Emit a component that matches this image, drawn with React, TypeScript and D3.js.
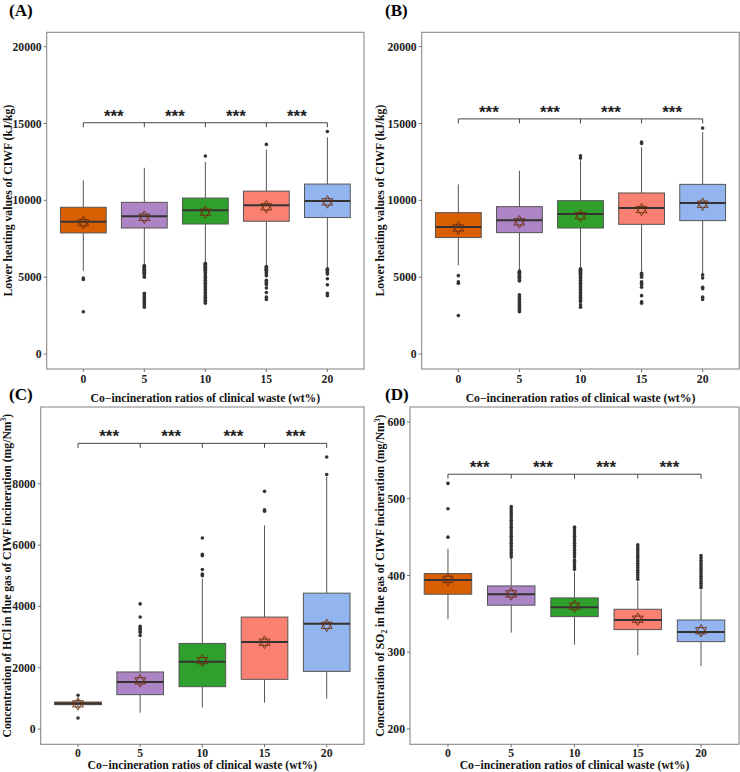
import React from "react";
import * as d3 from "d3";

const categories = ["0", "5", "10", "15", "20"];
const boxColors = ["#DA5F02", "#AD85C6", "#2FA02C", "#FA8072", "#93B5EF"];

// Panel A
const aQ1 = [7880, 8200, 8460, 8640, 8880];
const aMed = [8600, 8960, 9350, 9680, 9960];
const aQ3 = [9550, 9870, 10150, 10600, 11060];
const aLow = [5410, 5780, 5990, 5780, 5670];
const aHigh = [11300, 12120, 12500, 13300, 14100];
const aMean = [8550, 8900, 9230, 9580, 9900];
const aOut = [
  [4950, 4850, 2750],
  [5750, 5700, 5650, 5600, 5550, 5500, 5450, 5400, 5350, 5300, 5250, 5200, 5100, 5000, 3950, 3850, 3750, 3650, 3550, 3450, 3350, 3250, 3150, 3050],
  [12880, 5900, 5850, 5800, 5750, 5700, 5650, 5600, 5550, 5500, 5450, 5400, 5300, 5200, 5100, 5000, 4900, 4800, 4700, 4600, 4500, 4400, 4300, 4200, 4100, 4000, 3900, 3800, 3700, 3600, 3500, 3400, 3300],
  [13640, 5700, 5650, 5600, 5550, 5500, 5450, 5400, 5300, 5200, 5100, 4800, 4700, 4600, 4500, 4300, 4000, 3700, 3550],
  [14480, 5550, 5500, 5450, 5400, 5300, 5200, 4900, 4500, 3950, 3800],
];

// Panel B
const bQ1 = [7580, 7900, 8200, 8440, 8680];
const bMed = [8270, 8700, 9110, 9500, 9830];
const bQ3 = [9200, 9590, 9980, 10480, 11040];
const bLow = [5780, 5410, 5630, 5350, 5240];
const bHigh = [11040, 11930, 12600, 13450, 14440];
const bMean = [8200, 8600, 9000, 9400, 9750];
const bOut = [
  [5100, 4700, 4600, 2500],
  [5400, 5350, 5300, 5250, 5200, 5150, 5100, 5050, 5000, 4950, 4900, 4800, 4750, 3850, 3750, 3650, 3550, 3450, 3350, 3250, 3150, 3050, 2950, 2850, 2750],
  [12900, 12750, 5550, 5500, 5450, 5400, 5350, 5300, 5250, 5200, 5150, 5100, 5000, 4900, 4800, 4700, 4600, 4500, 4400, 4300, 4200, 4100, 4000, 3900, 3800, 3700, 3600, 3500, 3400, 3200, 3050],
  [13800, 13700, 5250, 5200, 5150, 5100, 5000, 4700, 4600, 4500, 4350, 3800, 3400, 3300],
  [14700, 5150, 4950, 4350, 4250, 3700, 3550],
];

// Panel C
const cQ1 = [793, 1120, 1380, 1620, 1880];
const cMed = [830, 1530, 2195, 2840, 3430];
const cQ3 = [880, 1860, 2790, 3650, 4430];
const cLow = [700, 530, 700, 860, 990];
const cHigh = [980, 2945, 4900, 6640, 8230];
const cMean = [820, 1570, 2230, 2830, 3380];
const cOut = [
  [1100, 360],
  [4080, 3650, 3350, 3300, 3250, 3200, 3150, 3050],
  [6230, 5700, 5650, 5200, 5050, 5000],
  [7750, 7150, 7100],
  [8870, 8300],
];

// Panel D
const dQ1 = [375.6, 361.3, 346.4, 329.5, 313.8];
const dMed = [394, 375.6, 358.7, 342, 326.5];
const dQ3 = [402.5, 386.4, 370.8, 356, 342];
const dLow = [343, 325.6, 310, 296, 282];
const dHigh = [435, 422, 405, 392, 381];
const dMean = [395, 376, 360, 343, 328];
const dOut = [
  [520, 487, 450],
  [490, 487, 484, 481, 478, 475, 472, 469, 466, 463, 460, 457, 454, 451, 448, 445, 442, 439, 436, 433, 430, 427, 424],
  [463, 460, 457, 454, 451, 448, 445, 442, 439, 436, 433, 430, 427, 424, 420, 417, 414, 411, 408],
  [440, 437, 434, 431, 428, 425, 422, 419, 416, 413, 410, 407, 404, 401, 398, 395],
  [426, 423, 420, 417, 414, 411, 408, 405, 402, 399, 396, 393, 390, 387, 384],
];

const ticksAB = [0, 5000, 10000, 15000, 20000];
const ticksC = [0, 2000, 4000, 6000, 8000];
const ticksD = [200, 300, 400, 500, 600];

const xTitle = "Co\u2212incineration ratios of clinical waste (wt%)";
const serif = "'Liberation Serif', 'Times New Roman', serif";
const FS = 11.7;

type PanelProps = {
  label: string;
  labelX: number;
  labelY: number;
  left: number;
  top: number;
  right: number;
  bottom: number;
  domain: [number, number];
  ticks: number[];
  q1: number[];
  med: number[];
  q3: number[];
  low: number[];
  high: number[];
  mean: number[];
  out: number[][];
  bracket: number;
  yTitle: React.ReactNode;
  yTitleX: number;
  xTickY: number;
  xTitleY: number;
};

function Hexagram({ cx, cy }: { cx: number; cy: number }) {
  const r = 6.3;
  const up = d3.range(3).map((i) => {
    const a = -Math.PI / 2 + (i * 2 * Math.PI) / 3;
    return [cx + r * Math.cos(a), cy + r * Math.sin(a)];
  });
  const down = d3.range(3).map((i) => {
    const a = Math.PI / 2 + (i * 2 * Math.PI) / 3;
    return [cx + r * Math.cos(a), cy + r * Math.sin(a)];
  });
  const toPath = (pts: number[][]) => "M" + pts.map((p) => p.join(",")).join("L") + "Z";
  return (
    <g fill="none" stroke="#6B2E0C" strokeWidth={0.9}>
      <path d={toPath(up)} />
      <path d={toPath(down)} />
    </g>
  );
}

function Panel(p: PanelProps) {
  const x = d3.scalePoint<string>().domain(categories).range([p.left, p.right]).padding(0.6);
  const step = x.step();
  const bw = step * 0.75;
  const y = d3.scaleLinear().domain(p.domain).range([p.bottom, p.top]);
  const by = y(p.bracket);
  const cxTitle = (p.left + p.right) / 2;
  return (
    <g>
      <text x={p.labelX} y={p.labelY} fontFamily={serif} fontWeight="bold" fontSize={17} fill="#000">
        {p.label}
      </text>
      <rect x={p.left} y={p.top} width={p.right - p.left} height={p.bottom - p.top} fill="#fff" stroke="#8a8a8a" strokeWidth={1.1} />
      {p.ticks.map((t) => (
        <g key={t}>
          <line x1={p.left - 3} x2={p.left} y1={y(t)} y2={y(t)} stroke="#555" strokeWidth={0.8} />
          <text x={p.left - 5} y={y(t)} dy="0.35em" textAnchor="end" fontFamily={serif} fontWeight="bold" fontSize={FS} fill="#222">
            {t}
          </text>
        </g>
      ))}
      {categories.map((c) => (
        <g key={c}>
          <line x1={x(c)} x2={x(c)} y1={p.bottom} y2={p.bottom + 3} stroke="#555" strokeWidth={0.8} />
          <text x={x(c)} y={p.xTickY} textAnchor="middle" fontFamily={serif} fontWeight="bold" fontSize={FS} fill="#222">
            {c}
          </text>
        </g>
      ))}
      <text x={cxTitle} y={p.xTitleY} textAnchor="middle" fontFamily={serif} fontWeight="bold" fontSize={FS} fill="#111">
        {xTitle}
      </text>
      <text
        transform={`translate(${p.yTitleX},${(p.top + p.bottom) / 2}) rotate(-90)`}
        textAnchor="middle"
        dy="0.35em"
        fontFamily={serif}
        fontWeight="bold"
        fontSize={FS}
        fill="#111"
      >
        {p.yTitle}
      </text>
      {categories.map((c, i) => {
        const cx = x(c) as number;
        return (
          <g key={c}>
            <line x1={cx} x2={cx} y1={y(p.q3[i])} y2={y(p.high[i])} stroke="#555" strokeWidth={1} />
            <line x1={cx} x2={cx} y1={y(p.q1[i])} y2={y(p.low[i])} stroke="#555" strokeWidth={1} />
            <rect
              x={cx - bw / 2}
              y={y(p.q3[i])}
              width={bw}
              height={Math.max(1, y(p.q1[i]) - y(p.q3[i]))}
              fill={boxColors[i]}
              stroke="#555"
              strokeWidth={1}
            />
            <line x1={cx - bw / 2} x2={cx + bw / 2} y1={y(p.med[i])} y2={y(p.med[i])} stroke="#333" strokeWidth={2} />
            {p.out[i].map((v, k) => (
              <circle key={k} cx={cx} cy={y(v)} r={1.8} fill="#333" />
            ))}
            <Hexagram cx={cx} cy={y(p.mean[i])} />
          </g>
        );
      })}
      <line x1={x(categories[0])} x2={x(categories[4])} y1={by} y2={by} stroke="#444" strokeWidth={1} />
      {categories.map((c) => (
        <line key={c} x1={x(c)} x2={x(c)} y1={by} y2={by + 4.5} stroke="#444" strokeWidth={1} />
      ))}
      {categories.slice(0, 4).map((c, i) => {
        const mx = ((x(c) as number) + (x(categories[i + 1]) as number)) / 2;
        return (
          <text key={c} x={mx} y={by - 1} textAnchor="middle" fontFamily="'Liberation Sans', Arial, sans-serif" fontWeight="bold" fontSize={17} fill="#222">
            ***
          </text>
        );
      })}
    </g>
  );
}

export default function App() {
  return (
    <svg width={740} height={772} style={{ display: "block", position: "absolute", left: 0, top: 0 }}>
      <rect width={740} height={772} fill="#fff" />
      <Panel
        label="(A)" labelX={9} labelY={16}
        left={46.7} top={32.3} right={364} bottom={369}
        domain={[-974, 20935]} ticks={ticksAB}
        q1={aQ1} med={aMed} q3={aQ3} low={aLow} high={aHigh} mean={aMean} out={aOut}
        bracket={15050}
        yTitle="Lower heating values of CIWF (kJ/kg)" yTitleX={7.5} xTickY={383} xTitleY={401.5}
      />
      <Panel
        label="(B)" labelX={385} labelY={16}
        left={421.7} top={32.3} right={739.3} bottom={369}
        domain={[-974, 20935]} ticks={ticksAB}
        q1={bQ1} med={bMed} q3={bQ3} low={bLow} high={bHigh} mean={bMean} out={bOut}
        bracket={15300}
        yTitle="Lower heating values of CIWF (kJ/kg)" yTitleX={380} xTickY={383} xTitleY={401.5}
      />
      <Panel
        label="(C)" labelX={9} labelY={400}
        left={40.7} top={407} right={364} bottom={744.3}
        domain={[-499, 10501]} ticks={ticksC}
        q1={cQ1} med={cMed} q3={cQ3} low={cLow} high={cHigh} mean={cMean} out={cOut}
        bracket={9315}
        yTitle={<>Concentration of HCl in flue gas of CIWF incineration (mg/Nm<tspan fontSize={7.5} dy="-4.5">3</tspan><tspan dy="4.5">)</tspan></>}
        yTitleX={6.5} xTickY={756.5} xTitleY={769}
      />
      <Panel
        label="(D)" labelX={385} labelY={400}
        left={410} top={407} right={739} bottom={744.3}
        domain={[180, 619.6]} ticks={ticksD}
        q1={dQ1} med={dMed} q3={dQ3} low={dLow} high={dHigh} mean={dMean} out={dOut}
        bracket={532}
        yTitle={<>Concentration of SO<tspan fontSize={7.5} dy="3">2</tspan><tspan dy="-3"> in flue gas of CIWF incineration (mg/Nm</tspan><tspan fontSize={7.5} dy="-4.5">3</tspan><tspan dy="4.5">)</tspan></>}
        yTitleX={380} xTickY={756.5} xTitleY={769}
      />
    </svg>
  );
}
